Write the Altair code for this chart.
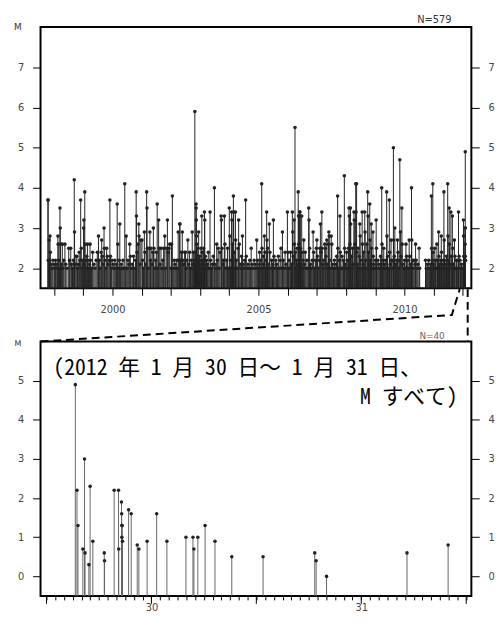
import altair as alt
import pandas as pd

# ---------------- top panel: (decimal year, M) ----------------
ev_1997 = [(1997.79, 3.7), (1997.795, 3.7), (1997.80, 2.2), (1997.83, 2.7), (1997.84, 2.2), (1997.86, 2.8),
           (1997.87, 2.4), (1997.90, 2.1), (1997.93, 2.0), (1997.96, 2.2), (1998.00, 2.1)]
ev_1998 = [(1998.02, 2.0), (1998.05, 2.2), (1998.09, 2.1), (1998.11, 2.0), (1998.13, 2.8), (1998.14, 2.6),
           (1998.16, 2.2), (1998.18, 2.0), (1998.20, 3.5), (1998.21, 3.0), (1998.22, 2.6), (1998.25, 2.1),
           (1998.28, 2.6), (1998.30, 2.0), (1998.33, 2.2), (1998.37, 2.6), (1998.40, 2.1), (1998.44, 2.0),
           (1998.50, 2.5), (1998.53, 2.2), (1998.57, 2.5), (1998.60, 2.1), (1998.63, 2.0), (1998.66, 2.2),
           (1998.69, 4.2), (1998.70, 2.9), (1998.72, 2.1), (1998.75, 2.3), (1998.78, 2.3), (1998.80, 2.0),
           (1998.83, 2.1), (1998.86, 2.4), (1998.88, 2.2), (1998.91, 3.7), (1998.93, 2.5), (1998.95, 2.0),
           (1998.97, 2.2)]
ev_1999 = [(1999.01, 3.0), (1999.02, 3.2), (1999.03, 2.1), (1999.05, 3.9), (1999.06, 2.6), (1999.08, 2.2),
           (1999.10, 2.0), (1999.12, 2.3), (1999.14, 2.6), (1999.16, 2.2), (1999.18, 2.0), (1999.21, 2.1),
           (1999.23, 2.6), (1999.25, 2.2), (1999.28, 2.0), (1999.32, 2.4), (1999.36, 2.1), (1999.40, 2.0),
           (1999.44, 2.2), (1999.48, 2.4), (1999.52, 2.8), (1999.55, 2.2), (1999.58, 2.0), (1999.61, 2.4),
           (1999.63, 2.7), (1999.65, 2.3), (1999.68, 2.1), (1999.71, 3.0), (1999.72, 2.5), (1999.74, 2.2),
           (1999.77, 2.0), (1999.80, 2.5), (1999.82, 2.3), (1999.85, 2.1), (1999.88, 2.2), (1999.91, 3.7),
           (1999.93, 2.3), (1999.96, 2.0), (1999.98, 2.2)]
ev_2000 = [(2000.02, 2.1), (2000.05, 2.0), (2000.08, 2.2), (2000.11, 2.0), (2000.14, 2.1), (2000.16, 3.6),
           (2000.18, 2.6), (2000.20, 2.0), (2000.23, 2.2), (2000.25, 3.1), (2000.27, 2.0), (2000.30, 2.1),
           (2000.33, 2.0), (2000.36, 2.2), (2000.39, 2.0), (2000.42, 4.1), (2000.44, 2.0), (2000.47, 2.8),
           (2000.50, 2.0), (2000.53, 2.2), (2000.56, 2.1), (2000.59, 2.6), (2000.61, 2.3), (2000.64, 2.0),
           (2000.68, 2.1), (2000.72, 2.3), (2000.76, 2.0), (2000.79, 2.2), (2000.81, 3.9), (2000.82, 3.3),
           (2000.84, 2.4), (2000.87, 2.6), (2000.90, 3.1), (2000.91, 2.8), (2000.94, 2.1), (2000.97, 2.7)]
ev_2001 = [(2001.01, 2.7), (2001.03, 2.2), (2001.06, 2.0), (2001.09, 2.9), (2001.11, 2.4), (2001.14, 2.1),
           (2001.17, 3.9), (2001.18, 3.5), (2001.19, 2.5), (2001.22, 2.0), (2001.25, 2.5), (2001.28, 2.9),
           (2001.30, 2.2), (2001.32, 2.5), (2001.35, 2.1), (2001.38, 2.4), (2001.40, 3.0), (2001.42, 2.5),
           (2001.45, 2.0), (2001.48, 2.2), (2001.50, 2.4), (2001.53, 3.6), (2001.55, 2.0), (2001.58, 3.2),
           (2001.60, 2.5), (2001.63, 2.1), (2001.66, 2.5), (2001.69, 2.0), (2001.72, 2.2), (2001.75, 2.5),
           (2001.79, 2.8), (2001.81, 2.0), (2001.84, 2.5), (2001.88, 3.2), (2001.90, 2.4), (2001.93, 2.5),
           (2001.96, 2.6)]
ev_2002 = [(2002.00, 2.0), (2002.02, 2.6), (2002.05, 3.8), (2002.08, 2.0), (2002.11, 2.2), (2002.14, 2.1),
           (2002.17, 2.0), (2002.20, 2.2), (2002.22, 2.0), (2002.25, 2.9), (2002.27, 2.2), (2002.30, 3.1),
           (2002.31, 3.1), (2002.33, 2.2), (2002.36, 2.4), (2002.39, 2.9), (2002.41, 2.2), (2002.44, 2.1),
           (2002.47, 2.4), (2002.50, 2.4), (2002.52, 2.0), (2002.55, 2.2), (2002.58, 2.7), (2002.61, 2.1),
           (2002.64, 2.4), (2002.67, 2.0), (2002.70, 2.2), (2002.73, 2.9), (2002.75, 2.1), (2002.77, 2.4),
           (2002.79, 2.0), (2002.80, 2.2), (2002.82, 5.9), (2002.83, 2.4), (2002.84, 2.1), (2002.85, 2.0),
           (2002.86, 3.6), (2002.865, 3.5), (2002.87, 3.2), (2002.88, 2.8), (2002.885, 2.6), (2002.89, 2.3),
           (2002.90, 2.0), (2002.91, 2.1), (2002.92, 2.5), (2002.93, 2.2), (2002.95, 2.9), (2002.96, 2.0),
           (2002.98, 2.3)]
ev_2003 = [(2003.00, 2.2), (2003.01, 2.0), (2003.03, 2.5), (2003.04, 2.1), (2003.06, 3.3), (2003.07, 2.4),
           (2003.09, 2.2), (2003.10, 2.0), (2003.12, 2.5), (2003.14, 2.1), (2003.15, 3.4), (2003.16, 3.2),
           (2003.18, 2.3), (2003.20, 2.0), (2003.22, 2.2), (2003.25, 2.1), (2003.28, 2.4), (2003.31, 2.0),
           (2003.34, 3.4), (2003.36, 2.2), (2003.39, 2.0), (2003.42, 2.1), (2003.45, 2.3), (2003.49, 4.0),
           (2003.51, 2.1), (2003.54, 2.0), (2003.57, 2.6), (2003.59, 2.2), (2003.62, 2.5), (2003.65, 2.0),
           (2003.68, 2.4), (2003.72, 3.3), (2003.73, 3.2), (2003.75, 2.5), (2003.78, 2.1), (2003.80, 2.2),
           (2003.83, 3.3), (2003.85, 2.6), (2003.88, 2.0), (2003.91, 2.2), (2003.94, 2.5), (2003.97, 2.0)]
ev_2004 = [(2004.00, 3.5), (2004.02, 2.8), (2004.04, 2.0), (2004.06, 2.2), (2004.08, 3.4), (2004.09, 3.2),
           (2004.11, 2.6), (2004.14, 3.8), (2004.15, 3.4), (2004.17, 2.4), (2004.19, 2.0), (2004.21, 3.4),
           (2004.22, 2.7), (2004.24, 2.2), (2004.27, 2.0), (2004.30, 2.5), (2004.32, 3.2), (2004.34, 2.6),
           (2004.37, 2.1), (2004.40, 2.0), (2004.42, 2.3), (2004.45, 2.8), (2004.47, 2.1), (2004.50, 2.0),
           (2004.53, 2.2), (2004.56, 3.7), (2004.58, 2.3), (2004.61, 2.0), (2004.64, 2.1), (2004.67, 2.0),
           (2004.70, 2.2), (2004.73, 2.0), (2004.75, 2.5), (2004.78, 2.1), (2004.81, 2.0), (2004.85, 2.2),
           (2004.88, 2.1), (2004.91, 2.0), (2004.94, 2.7), (2004.97, 2.2)]
ev_2005 = [(2005.00, 2.0), (2005.02, 2.1), (2005.04, 2.4), (2005.06, 2.0), (2005.08, 2.2), (2005.11, 4.1),
           (2005.12, 2.5), (2005.14, 2.0), (2005.16, 2.3), (2005.18, 2.1), (2005.20, 2.8), (2005.22, 2.4),
           (2005.24, 2.0), (2005.26, 2.2), (2005.28, 3.4), (2005.29, 2.7), (2005.31, 2.5), (2005.33, 2.1),
           (2005.35, 2.0), (2005.37, 3.1), (2005.39, 2.4), (2005.42, 2.0), (2005.45, 2.2), (2005.48, 2.1),
           (2005.51, 3.2), (2005.53, 2.3), (2005.56, 2.0), (2005.59, 2.2), (2005.62, 2.1), (2005.65, 2.0),
           (2005.68, 2.3), (2005.71, 2.0), (2005.74, 2.2), (2005.77, 2.5), (2005.80, 2.0), (2005.82, 2.9),
           (2005.85, 2.2), (2005.88, 2.0), (2005.91, 2.4), (2005.94, 2.1), (2005.97, 2.0)]
ev_2006 = [(2005.99, 3.4), (2006.01, 2.4), (2006.03, 2.0), (2006.05, 2.2), (2006.08, 2.0), (2006.10, 2.4),
           (2006.13, 2.1), (2006.16, 3.4), (2006.17, 2.9), (2006.19, 2.3), (2006.22, 3.2), (2006.23, 2.6),
           (2006.25, 5.5), (2006.26, 2.4), (2006.28, 2.0), (2006.30, 2.2), (2006.32, 2.5), (2006.34, 2.1),
           (2006.36, 3.9), (2006.37, 3.3), (2006.38, 2.6), (2006.39, 2.2), (2006.41, 3.4), (2006.42, 3.4),
           (2006.43, 3.3), (2006.44, 2.5), (2006.46, 2.1), (2006.48, 3.3), (2006.49, 2.4), (2006.51, 2.0),
           (2006.53, 2.2), (2006.55, 2.7), (2006.57, 2.1), (2006.60, 2.4), (2006.63, 2.0), (2006.66, 2.2),
           (2006.69, 2.0), (2006.72, 3.5), (2006.73, 3.2), (2006.75, 2.5), (2006.78, 2.1), (2006.81, 2.0),
           (2006.84, 2.2), (2006.87, 2.9), (2006.89, 2.4), (2006.92, 2.0), (2006.95, 2.2), (2006.98, 2.5)]
ev_2007 = [(2007.00, 2.7), (2007.02, 2.3), (2007.05, 2.0), (2007.08, 2.2), (2007.10, 2.5), (2007.12, 3.1),
           (2007.14, 2.4), (2007.17, 3.4), (2007.18, 2.5), (2007.20, 2.1), (2007.22, 2.0), (2007.24, 2.2),
           (2007.27, 2.6), (2007.29, 2.5), (2007.31, 2.3), (2007.34, 2.7), (2007.35, 2.1), (2007.37, 2.0),
           (2007.39, 2.6), (2007.41, 2.9), (2007.42, 2.8), (2007.44, 2.2), (2007.46, 2.0), (2007.49, 2.8),
           (2007.51, 2.6), (2007.54, 2.1), (2007.57, 2.0), (2007.60, 2.2), (2007.63, 2.0), (2007.66, 2.1),
           (2007.68, 2.3), (2007.71, 3.8), (2007.72, 2.5), (2007.74, 2.0), (2007.77, 2.2), (2007.79, 3.3),
           (2007.80, 2.4), (2007.83, 2.0), (2007.86, 2.3), (2007.89, 2.0), (2007.91, 2.2), (2007.94, 4.3),
           (2007.95, 2.5), (2007.97, 2.1)]
ev_2008 = [(2008.00, 2.0), (2008.02, 2.4), (2008.04, 2.2), (2008.06, 2.0), (2008.08, 2.5), (2008.10, 3.5),
           (2008.11, 3.3), (2008.13, 2.6), (2008.15, 3.5), (2008.16, 3.1), (2008.18, 2.3), (2008.20, 2.0),
           (2008.22, 2.5), (2008.24, 2.1), (2008.27, 3.4), (2008.28, 3.2), (2008.30, 2.6), (2008.33, 4.1),
           (2008.34, 3.4), (2008.36, 4.1), (2008.37, 2.4), (2008.39, 2.1), (2008.41, 2.5), (2008.43, 2.0),
           (2008.45, 2.3), (2008.47, 3.1), (2008.48, 2.8), (2008.50, 2.2), (2008.52, 2.0), (2008.55, 3.4),
           (2008.56, 2.6), (2008.58, 2.1), (2008.60, 2.4), (2008.62, 2.0), (2008.64, 3.4), (2008.65, 2.9),
           (2008.67, 2.2), (2008.69, 2.0), (2008.71, 2.6), (2008.74, 3.9), (2008.75, 3.3), (2008.77, 2.4),
           (2008.79, 2.1), (2008.81, 3.6), (2008.82, 2.7), (2008.84, 2.2), (2008.86, 3.1), (2008.87, 2.5),
           (2008.89, 2.0), (2008.92, 2.9), (2008.93, 2.3), (2008.95, 2.1), (2008.98, 2.0)]
ev_2009 = [(2009.00, 2.2), (2009.03, 3.2), (2009.04, 2.5), (2009.06, 2.0), (2009.09, 2.2), (2009.12, 2.1),
           (2009.15, 2.0), (2009.18, 2.3), (2009.20, 2.1), (2009.22, 4.0), (2009.23, 2.6), (2009.25, 2.0),
           (2009.27, 2.2), (2009.29, 2.5), (2009.31, 2.1), (2009.34, 2.0), (2009.36, 2.2), (2009.39, 3.9),
           (2009.40, 2.8), (2009.42, 2.3), (2009.45, 2.0), (2009.48, 3.7), (2009.49, 2.4), (2009.51, 2.1),
           (2009.54, 2.7), (2009.55, 2.2), (2009.57, 2.0), (2009.60, 2.2), (2009.62, 5.0), (2009.63, 2.7),
           (2009.65, 2.3), (2009.67, 3.0), (2009.69, 2.1), (2009.71, 2.0), (2009.73, 2.2), (2009.76, 2.7),
           (2009.78, 2.4), (2009.80, 2.0), (2009.82, 2.2), (2009.84, 4.7), (2009.86, 2.9), (2009.88, 2.3),
           (2009.91, 3.5), (2009.92, 2.6), (2009.94, 2.1), (2009.97, 2.0)]
ev_2010 = [(2010.00, 2.2), (2010.03, 2.0), (2010.05, 2.6), (2010.07, 2.3), (2010.09, 2.0), (2010.11, 2.2),
           (2010.14, 2.0), (2010.16, 2.7), (2010.18, 2.3), (2010.20, 2.1), (2010.22, 2.0), (2010.24, 4.0),
           (2010.25, 2.7), (2010.27, 2.2), (2010.30, 2.0), (2010.33, 2.2), (2010.36, 2.1), (2010.38, 2.6),
           (2010.40, 2.2), (2010.43, 2.0), (2010.46, 2.1), (2010.50, 2.5), (2010.52, 2.0), (2010.72, 2.2),
           (2010.75, 2.0), (2010.78, 2.1), (2010.80, 2.0), (2010.83, 2.2), (2010.86, 2.0), (2010.89, 2.1),
           (2010.92, 3.8), (2010.93, 2.5), (2010.95, 2.2), (2010.97, 4.1), (2010.98, 2.4)]
ev_2011 = [(2011.00, 2.1), (2011.02, 2.0), (2011.04, 2.5), (2011.06, 2.2), (2011.08, 2.0), (2011.11, 2.6),
           (2011.13, 2.2), (2011.15, 2.0), (2011.17, 2.9), (2011.18, 2.3), (2011.20, 2.1), (2011.22, 2.0),
           (2011.24, 2.2), (2011.26, 2.8), (2011.27, 2.4), (2011.29, 2.0), (2011.31, 2.1), (2011.33, 2.2),
           (2011.35, 3.9), (2011.36, 2.7), (2011.38, 2.2), (2011.40, 2.0), (2011.42, 2.1), (2011.44, 2.3),
           (2011.46, 2.0), (2011.48, 4.1), (2011.49, 2.8), (2011.51, 2.2), (2011.53, 3.5), (2011.54, 2.6),
           (2011.56, 2.1), (2011.59, 3.4), (2011.60, 2.3), (2011.62, 2.0), (2011.64, 3.3), (2011.65, 2.5),
           (2011.67, 2.1), (2011.69, 2.0), (2011.71, 2.7), (2011.73, 2.3), (2011.76, 2.0), (2011.78, 2.2),
           (2011.81, 2.0), (2011.83, 2.2), (2011.85, 3.4), (2011.87, 2.3), (2011.90, 2.2), (2011.92, 2.0),
           (2011.95, 2.1), (2011.98, 2.0)]
ev_2012 = [(2012.00, 2.0), (2012.02, 3.2), (2012.022, 2.8), (2012.03, 2.3), (2012.05, 2.2), (2012.07, 3.0),
           (2012.075, 2.6), (2012.082, 4.9), (2012.082, 3.0), (2012.083, 2.3), (2012.083, 2.2),
           (2012.083, 2.2), (2012.084, 2.2)]

top_events = (ev_1997 + ev_1998 + ev_1999 + ev_2000 + ev_2001 + ev_2002 + ev_2003 + ev_2004 + ev_2005 +
              ev_2006 + ev_2007 + ev_2008 + ev_2009 + ev_2010 + ev_2011 + ev_2012)
top_df = pd.DataFrame(top_events, columns=["t", "m"])

# ---------------- bottom panel: hours from 2012-01-30 00:00, M ----------------
bottom_hours = [3.30, 3.49, 3.60, 4.16, 4.35, 4.41, 4.85, 4.99, 5.30, 6.61,
                6.64, 7.74, 8.24, 8.26, 8.58, 8.60, 8.61, 8.66, 8.62, 8.69,
                9.39, 9.69, 10.38, 10.57, 11.51, 12.60, 13.77, 15.95, 16.75, 16.86,
                17.31, 18.14, 19.27, 21.19, 24.77, 30.68, 30.84, 32.03, 41.23, 45.93]
bottom_mag = [4.9, 2.2, 1.3, 0.7, 3.0, 0.6, 0.3, 2.3, 0.9, 0.6,
              0.4, 2.2, 2.2, 0.7, 1.9, 1.6, 1.3, 1.3, 1.0, 0.9,
              1.7, 1.6, 0.8, 0.7, 0.9, 1.6, 0.9, 1.0, 1.0, 0.7,
              1.0, 1.3, 0.9, 0.5, 0.5, 0.6, 0.4, 0.0, 0.6, 0.8]
bot_df = pd.DataFrame({"h": bottom_hours, "m": bottom_mag})
major_hours = [0, 12, 24, 36, 48]
minor_hours = list(range(0, 49))

# dashed zoom connector (bottom-panel data units)
conn_h = [-0.68, 46.36, 47.26, 48.17, 48.17]
conn_m = [6.0, 6.68, 7.34, 7.34, 6.0]
conn_seg = ["a", "a", "a", "b", "b"]
conn_ord = [0, 1, 2, 0, 1]
conn_df = pd.DataFrame({"h": conn_h, "m": conn_m, "seg": conn_seg, "o": conn_ord})

FONT = "DejaVu Sans"
JFONT = "Noto Sans Mono CJK JP, Noto Sans CJK JP"
H_TOP = 265
H_BOT = 258

# ---------- top chart ----------
xs_top = alt.Scale(domain=[1997.535, 2012.29], nice=False, zero=False)
ys_top = alt.Scale(domain=[1.5, 8], nice=False, zero=False)
x_top = alt.X("t:Q", scale=xs_top,
              axis=alt.Axis(values=list(range(1998, 2013)), title=None, tickSize=7, labelPadding=9,
                            labelExpr="datum.value % 5 == 0 ? '' + datum.value : ''",
                            labelOverlap=False, labelFlush=False))
rules_top = alt.Chart(top_df).mark_rule(color="#222", strokeWidth=1).encode(
    x=x_top,
    y=alt.Y("m:Q", scale=ys_top, axis=alt.Axis(values=[2, 3, 4, 5, 6, 7], orient="left", title=None)),
    y2=alt.datum(1.5),
)
pts_top = alt.Chart(top_df).mark_circle(size=13, color="#222", opacity=1).encode(
    x=x_top,
    y=alt.Y("m:Q", scale=ys_top, axis=alt.Axis(values=[2, 3, 4, 5, 6, 7], orient="right", title=None)),
)
n_top = alt.Chart(pd.DataFrame({"s": ["N=579"]})).mark_text(
    align="right", baseline="middle", font=FONT, fontSize=10, color="#333").encode(
    x=alt.value(417), y=alt.value(-7), text="s:N")
m_top = alt.Chart(pd.DataFrame({"s": ["M"]})).mark_text(
    align="center", baseline="middle", font=FONT, fontSize=9, color="#333").encode(
    x=alt.value(-23), y=alt.value(0), text="s:N")
top = alt.layer(rules_top, pts_top, n_top, m_top).resolve_axis(y="independent").properties(
    width=437, height=H_TOP)

# ---------- bottom chart ----------
xs_bot = alt.Scale(domain=[-0.68, 48.59], nice=False, zero=False)
ys_bot = alt.Scale(domain=[-0.5, 6], nice=False, zero=False)
x_bot = alt.X("h:Q", scale=xs_bot,
              axis=alt.Axis(values=minor_hours, title=None, tickSize=4, labelPadding=3,
                            labelExpr="datum.value == 12 ? '30' : (datum.value == 36 ? '31' : '')",
                            labelOverlap=False, labelFlush=False))
rules_bot = alt.Chart(bot_df).mark_rule(color="#666", strokeWidth=1).encode(
    x=x_bot,
    y=alt.Y("m:Q", scale=ys_bot, axis=alt.Axis(values=[0, 1, 2, 3, 4, 5], orient="left", title=None)),
    y2=alt.datum(-0.5),
)
pts_bot = alt.Chart(bot_df).mark_circle(size=13, color="#222", opacity=1).encode(
    x=x_bot,
    y=alt.Y("m:Q", scale=ys_bot, axis=alt.Axis(values=[0, 1, 2, 3, 4, 5], orient="right", title=None)),
)
major = alt.Chart(pd.DataFrame({"h": major_hours})).mark_rule(color="black", strokeWidth=1, clip=False).encode(
    x=x_bot,
    y=alt.value(H_BOT),
    y2=alt.value(H_BOT + 8),
)
conn = alt.Chart(conn_df).mark_line(color="black", strokeWidth=2, strokeDash=[8, 5], clip=False).encode(
    x=x_bot,
    y=alt.Y("m:Q", scale=ys_bot, axis=None),
    detail="seg:N",
    order="o:Q",
)
n_bot = alt.Chart(pd.DataFrame({"s": ["N=40"]})).mark_text(
    align="right", baseline="middle", font=FONT, fontSize=9, color="#666").encode(
    x=alt.value(410), y=alt.value(-6), text="s:N")
m_bot = alt.Chart(pd.DataFrame({"s": ["M"]})).mark_text(
    align="center", baseline="middle", font=FONT, fontSize=8, color="#333").encode(
    x=alt.value(-23), y=alt.value(2), text="s:N")
j1 = alt.Chart(pd.DataFrame({"s": ["(2012 年 1 月 30 日～ 1 月 31 日、"]})).mark_text(
    align="left", baseline="middle", font=JFONT, fontSize=22, color="black").encode(
    x=alt.value(13), y=alt.value(27), text="s:N")
j2 = alt.Chart(pd.DataFrame({"s": ["M すべて)"]})).mark_text(
    align="right", baseline="middle", font=JFONT, fontSize=22, color="black").encode(
    x=alt.value(423), y=alt.value(56), text="s:N")
bottom = alt.layer(rules_bot, pts_bot, major, conn, n_bot, m_bot, j1, j2).resolve_axis(
    y="independent").properties(width=437, height=H_BOT)

chart = alt.vconcat(top, bottom, spacing=54, bounds="flush").properties(
    padding={"left": 5, "top": 2, "right": 0, "bottom": 0}
).configure_view(stroke="black", strokeWidth=2).configure_axis(
    domain=False, grid=False, tickColor="black", tickWidth=1, tickSize=8,
    labelFont=FONT, labelFontSize=10, labelColor="#444", labelPadding=9,
)

chart.save("out.html", embed_options={"renderer": "svg", "actions": False})
